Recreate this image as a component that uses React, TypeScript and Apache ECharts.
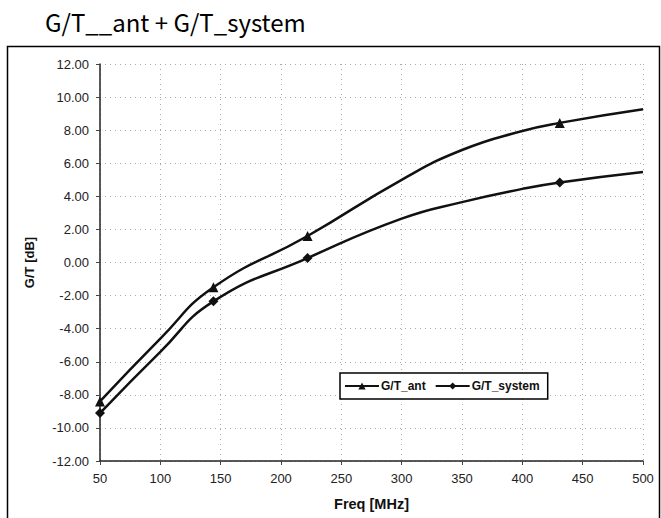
import React, { useEffect, useRef } from "react";
import * as echarts from "echarts";

const titleText = "G/T__ant + G/T_system";
const freqAnt = [50, 100, 144, 222, 300, 350, 400, 431, 500];
const valAnt = [-8.4, -4.6, -1.5, 1.6, 5.0, 6.8, 7.95, 8.44, 9.26];
const freqSys = [50, 100, 144, 222, 300, 350, 400, 431, 500];
const valSys = [-9.1, -5.4, -2.35, 0.27, 2.65, 3.65, 4.45, 4.84, 5.47];
const markedFreqs = [50, 144, 222, 431];

export default function App() {
  const ref = useRef<HTMLDivElement>(null);
  useEffect(() => {
    if (!ref.current) return;
    const chart = echarts.init(ref.current, undefined, { renderer: "svg" });
    const mk = (xs: number[], ys: number[]) =>
      xs.map((x, i) =>
        markedFreqs.indexOf(x) >= 0 ? [x, ys[i]] : { value: [x, ys[i]], symbol: "none" }
      );
    const font = "Arial, 'Liberation Sans', sans-serif";
    chart.setOption({
      animation: false,
      backgroundColor: "#fff",
      graphic: [
        {
          type: "rect",
          shape: { x: 7.5, y: 46.5, width: 652, height: 490 },
          style: { fill: "none", stroke: "#000", lineWidth: 1.5 },
          z: 0,
        },
        {
          type: "text",
          left: 45,
          top: 9,
          style: {
            text: titleText,
            fontSize: 24,
            fontFamily: "'Noto Sans CJK KR', 'Noto Sans', sans-serif",
            fill: "#000",
          },
        },
      ],
      grid: { left: 100, right: 18, top: 64, bottom: 57 },
      legend: {
        left: 340,
        top: 373,
        orient: "horizontal",
        borderColor: "#000",
        borderWidth: 1.5,
        padding: [7, 8, 7, 4],
        itemGap: 9,
        itemWidth: 34,
        itemHeight: 9,
        backgroundColor: "#fff",
        textStyle: { fontFamily: font, fontSize: 12, color: "#111", fontWeight: "bold", padding: [0, 0, 0, -3] },
        data: ["G/T_ant", "G/T_system"],
      },
      xAxis: {
        type: "value",
        min: 50,
        max: 500,
        interval: 50,
        name: "Freq [MHz]",
        nameLocation: "middle",
        nameGap: 35,
        nameTextStyle: { fontFamily: font, fontSize: 14.5, fontWeight: "bold", color: "#111" },
        axisLine: { onZero: false, lineStyle: { color: "#222", width: 1.5 } },
        axisTick: { show: true, length: 4, lineStyle: { color: "#444" } },
        axisLabel: { fontFamily: font, fontSize: 13, color: "#222", margin: 11 },
        splitLine: { show: true, lineStyle: { type: [1, 4], color: "#aaa", width: 1 } },
      },
      yAxis: {
        type: "value",
        min: -12,
        max: 12,
        interval: 2,
        name: "G/T [dB]",
        nameLocation: "middle",
        nameGap: 64,
        nameTextStyle: { fontFamily: font, fontSize: 13, fontWeight: "bold", color: "#111" },
        axisLine: { show: true, onZero: false, lineStyle: { color: "#222", width: 1.5 } },
        axisTick: { show: true, length: 4, lineStyle: { color: "#444" } },
        axisLabel: {
          fontFamily: font,
          fontSize: 13,
          color: "#222",
          margin: 11,
          formatter: (v: number) => v.toFixed(2),
        },
        splitLine: { show: true, lineStyle: { type: [1, 4], color: "#aaa", width: 1 } },
      },
      series: [
        {
          name: "G/T_ant",
          type: "line",
          smooth: 0.5,
          symbol: "triangle",
          symbolSize: 10,
          color: "#111",
          lineStyle: { width: 2.5, color: "#111" },
          itemStyle: { color: "#111" },
          data: mk(freqAnt, valAnt),
        },
        {
          name: "G/T_system",
          type: "line",
          smooth: 0.5,
          symbol: "diamond",
          symbolSize: 10,
          color: "#111",
          lineStyle: { width: 2.5, color: "#111" },
          itemStyle: { color: "#111" },
          data: mk(freqSys, valSys),
        },
      ],
    });
    return () => chart.dispose();
  }, []);
  return (
    <div
      ref={ref}
      style={{ position: "absolute", left: 0, top: 0, width: 661, height: 518 }}
    />
  );
}
